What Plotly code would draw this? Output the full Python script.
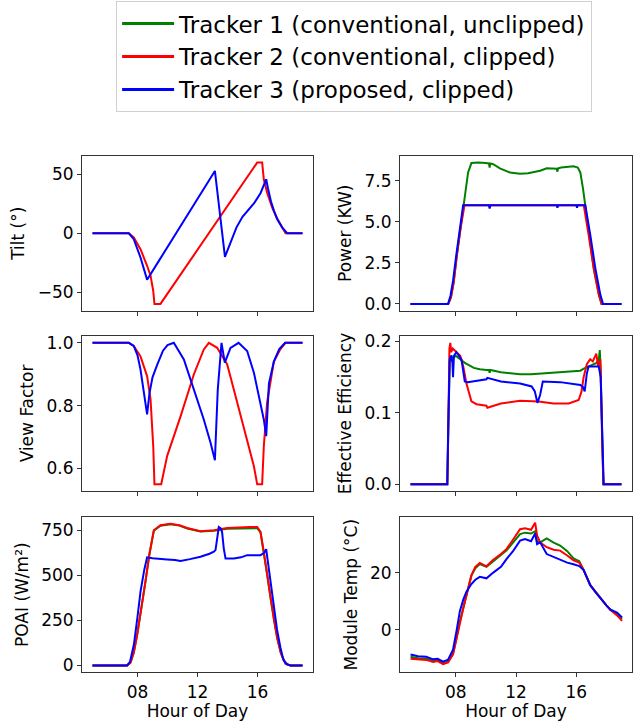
import plotly.graph_objects as go

# ---------------- data ----------------
names = ["Tracker 1 (conventional, unclipped)",
         "Tracker 2 (conventional, clipped)",
         "Tracker 3 (proposed, clipped)"]
colors = ["green", "red", "blue"]

hour_ticks = [8, 12, 16]
hour_labels = ["08", "12", "16"]

# Tilt (deg)
tilt_t_red = [5.0, 7.42, 7.75, 8.2, 8.64, 8.87, 9.05, 9.13, 9.53, 10.5, 11.5, 12.5, 13.5, 14.5, 15.5,
              15.98, 16.31, 16.42, 16.64, 16.98, 17.31, 17.64, 17.87, 19.0]
tilt_red = [0, 0, -3.6, -13.5, -27.6, -36, -49, -60, -60, -42, -23.4, -4.8, 13.8, 32.4, 51,
            60, 60, 45.8, 34.5, 21.8, 12.5, 4.8, 0, 0]
tilt_t_blue = [5.0, 7.42, 7.75, 8.2, 8.53, 8.64, 9.31, 9.98, 10.64, 11.31, 11.98, 12.64, 13.16, 13.83,
               14.2, 14.6, 15.0, 15.4, 15.8, 16.2, 16.58, 16.7, 16.9, 17.1, 17.31, 17.64, 17.98, 19.0]
tilt_blue = [0, 0, -5, -20.6, -34.7, -39.5, -25.8, -12.2, 1.3, 15, 28.6, 42, 52.9, -20,
             -8, 5, 14, 20, 26, 34, 45.8, 38, 27, 19, 12, 5, 0, 0]

# Power (kW)
pow_t_green = [5.0, 7.5, 7.68, 7.86, 8.08, 8.32, 8.58, 8.82, 9.04, 9.5, 10.0, 10.2, 10.25, 10.3, 10.49,
               10.93, 11.6, 12.27, 12.8, 13.16, 13.6, 14.04, 14.5, 14.7, 14.75, 14.8, 15.0, 15.5, 15.82,
               16.1, 16.27, 16.45, 16.6, 16.82, 17.16, 17.5, 17.68, 19.0]
pow_green = [0, 0, 0.4, 1.3, 3.0, 4.6, 6.1, 8.0, 8.57, 8.6, 8.58, 8.55, 8.3, 8.55, 8.5,
             8.25, 8.0, 7.92, 7.95, 8.0, 8.1, 8.25, 8.25, 8.22, 8.05, 8.25, 8.3, 8.37, 8.37,
             8.3, 8.0, 7.0, 6.0, 4.2, 2.15, 0.55, 0, 0]
pow_t_red = [5.0, 7.5, 7.68, 7.86, 8.08, 8.32, 8.58, 16.5, 16.82, 17.16, 17.5, 17.68, 19.0]
pow_red = [0, 0, 0.4, 1.3, 3.0, 4.6, 6.0, 6.0, 4.2, 2.15, 0.55, 0, 0]
pow_t_blue = [5.0, 7.49, 7.65, 7.82, 8.04, 8.27, 8.49, 10.2, 10.25, 10.3, 14.7, 14.75, 14.8,
              16.0, 16.05, 16.1, 16.6, 16.93, 17.27, 17.6, 17.78, 19.0]
pow_blue = [0, 0, 0.5, 1.4, 3.0, 4.6, 6.0, 6.0, 5.8, 6.0, 6.0, 5.85, 6.0,
            6.0, 5.85, 6.0, 6.0, 4.2, 2.15, 0.55, 0, 0]

# View factor
vf_t_red = [5.0, 7.42, 7.75, 8.2, 8.64, 8.87, 9.05, 9.13, 9.58, 9.98, 10.87, 11.76, 12.42, 12.76,
            13.31, 13.98, 14.42, 14.87, 15.31, 15.76, 15.98, 16.31, 16.42, 16.64, 17.09, 17.53, 17.87, 19.0]
vf_red = [1, 1, 0.99, 0.957, 0.894, 0.82, 0.67, 0.55, 0.55, 0.64, 0.766, 0.90, 0.979, 1.0,
          0.984, 0.931, 0.851, 0.766, 0.692, 0.607, 0.55, 0.55, 0.67, 0.81, 0.94, 0.98, 1.0, 1.0]
vf_t_blue = [5.0, 7.42, 7.75, 8.0, 8.2, 8.42, 8.64, 8.8, 9.0, 9.31, 9.7, 10.0, 10.42, 11.09, 11.76,
             12.42, 12.87, 13.16, 13.35, 13.6, 13.82, 14.2, 14.74, 15.31, 15.76, 16.2, 16.42, 16.58,
             16.76, 17.09, 17.45, 17.84, 19.0]
vf_blue = [1, 1, 0.99, 0.96, 0.915, 0.85, 0.772, 0.84, 0.89, 0.93, 0.975, 0.993, 1.0, 0.947, 0.851,
           0.756, 0.682, 0.626, 0.85, 1.0, 0.937, 0.984, 1.0, 0.974, 0.905, 0.81, 0.756, 0.703,
           0.87, 0.94, 0.98, 1.0, 1.0]

# Effective efficiency
eff_t_green = [5.0, 7.44, 7.5, 7.6, 7.7, 7.85, 8.0, 8.27, 8.6, 9.2, 9.6, 10.04, 10.2, 10.25, 10.3,
               11.0, 12.27, 13.0, 14.49, 15.5, 16.27, 16.5, 16.8, 17.1, 17.35, 17.5, 17.56, 17.62,
               17.72, 17.8, 19.0]
eff_green = [0, 0, 0.07, 0.17, 0.18, 0.177, 0.18, 0.175, 0.17, 0.163, 0.161, 0.160, 0.160, 0.156, 0.160,
             0.157, 0.154, 0.154, 0.156, 0.157, 0.159, 0.162, 0.165, 0.168, 0.17, 0.175, 0.188, 0.16,
             0.05, 0, 0]
eff_t_red = [5.0, 7.44, 7.5, 7.58, 7.64, 7.7, 7.8, 8.04, 8.3, 8.5, 8.71, 9.04, 9.38, 10.04, 10.1,
             11.0, 12.27, 13.5, 14.49, 15.5, 16.16, 16.35, 16.49, 16.7, 16.93, 17.1, 17.33, 17.45,
             17.6, 17.72, 17.8, 19.0]
eff_red = [0, 0, 0.067, 0.19, 0.198, 0.185, 0.19, 0.185, 0.18, 0.165, 0.141, 0.116, 0.112, 0.110, 0.107,
           0.113, 0.117, 0.116, 0.113, 0.113, 0.118, 0.13, 0.15, 0.168, 0.175, 0.172, 0.183, 0.165,
           0.175, 0.06, 0, 0]
eff_t_blue = [5.0, 7.44, 7.5, 7.6, 7.7, 7.78, 7.82, 7.88, 8.04, 8.2, 8.38, 8.6, 8.8, 10.04, 10.1,
              11.0, 12.27, 13.04, 13.25, 13.42, 13.6, 13.78, 14.93, 16.27, 16.45, 16.56, 16.7, 16.82,
              17.2, 17.49, 17.62, 17.75, 17.82, 19.0]
eff_blue = [0, 0, 0.08, 0.175, 0.18, 0.17, 0.15, 0.18, 0.185, 0.18, 0.175, 0.144, 0.143, 0.147, 0.149,
            0.144, 0.141, 0.137, 0.13, 0.114, 0.125, 0.144, 0.143, 0.139, 0.136, 0.130, 0.155, 0.165,
            0.165, 0.165, 0.15, 0.05, 0, 0]

# POAI (W/m2)
poai_t_rg = [5.0, 7.31, 7.53, 7.75, 7.98, 8.25, 8.53, 8.8, 9.09, 9.53, 10.2, 10.8, 11.31, 12.2, 13.09,
             13.98, 14.87, 15.5, 15.98, 16.2, 16.42, 16.65, 16.87, 17.1, 17.31, 17.55, 17.76, 18.0,
             18.2, 19.0]
poai_green = [0, 0, 15, 70, 171, 310, 465, 620, 748, 775, 784, 776, 760, 743, 748,
              758, 760, 762, 762, 738, 631, 500, 373, 250, 153, 70, 26, 5, 0, 0]
poai_red = [0, 0, 15, 70, 171, 310, 465, 620, 750, 778, 787, 778, 763, 745, 750,
            763, 768, 768, 768, 741, 631, 500, 373, 250, 153, 70, 26, 5, 0, 0]
poai_t_blue = [5.0, 7.3, 7.5, 7.76, 8.0, 8.2, 8.45, 8.64, 9.0, 9.5, 9.98, 10.5, 10.87, 11.5, 12.2,
               12.8, 13.09, 13.2, 13.3, 13.42, 13.55, 13.64, 13.75, 13.87, 14.42, 14.9, 15.31, 15.8,
               16.2, 16.45, 16.58, 16.7, 16.87, 17.09, 17.3, 17.53, 17.7, 17.87, 18.2, 19.0]
poai_blue = [0, 0, 20, 116, 270, 410, 530, 600, 595, 590, 588, 585, 580, 590, 603,
             620, 631, 640, 700, 768, 760, 740, 650, 593, 593, 600, 612, 610,
             612, 625, 645, 570, 465, 318, 200, 98, 40, 10, 0, 0]

# Module temperature (degC)
temp_t = [5.0, 5.5, 6.04, 6.5, 6.8, 7.16, 7.49, 7.82, 8.05, 8.27, 8.5, 8.71, 9.04, 9.3, 9.6, 10.04,
          10.49, 11.0, 11.38, 11.8, 12.27, 12.6, 13.0, 13.27, 13.4, 13.6, 14.04, 14.5, 14.93, 15.4,
          15.82, 16.2, 16.49, 16.93, 17.3, 17.6, 18.0, 18.27, 18.71, 19.04]
temp_green = [-9.5, -10.0, -10.2, -10.8, -10.5, -11.8, -11.2, -8.5, -3, 2.9, 7.5, 12.1, 19, 21.5, 23, 22,
              24, 26, 27.8, 30.5, 33.5, 34, 33.7, 34.5, 31, 30.6, 32, 30.5, 29.5, 27.5,
              25, 24, 20.9, 15.6, 13, 11, 8.5, 7, 5.5, 3.8]
temp_red = [-10.2, -10.5, -10.6, -11.3, -11.0, -12.1, -11.5, -8.7, -3, 2.9, 7.5, 12.1, 19, 22, 23.4, 22.2,
            24.5, 26.5, 28.3, 31.5, 35.2, 35.5, 35, 37.5, 33, 30.6, 28.9, 28, 27.7, 26,
            24.3, 23.5, 20.9, 15.6, 13, 11, 8.5, 6.9, 5, 3.1]
temp_blue = [-8.7, -9.3, -9.5, -10.4, -10.2, -11.2, -10.5, -7, -0.5, 6.4, 10.5, 13.3, 16, 17.5, 18.5, 18,
             20, 22, 24.8, 27.5, 31.2, 31.8, 31, 33.7, 30, 30.6, 26.5, 25.5, 24.3, 23.5,
             22.9, 22.3, 20.9, 15.6, 13, 11, 8.5, 7, 6, 4.3]

# ---------------- figure ----------------
W, H = 638, 721
FONT = "DejaVu Sans"
fig = go.Figure()


def add(ax, x, y, idx, show=False):
    fig.add_trace(go.Scatter(x=x, y=y, mode="lines", name=names[idx],
                             line=dict(color=colors[idx], width=2),
                             xaxis="x" + ax, yaxis="y" + ax,
                             legendgroup=str(idx), showlegend=show))


# legend entries (order green, red, blue)
for i in range(3):
    fig.add_trace(go.Scatter(x=[None], y=[None], mode="lines", name=names[i],
                             line=dict(color=colors[i], width=3),
                             legendgroup=str(i), showlegend=True))

add("", tilt_t_red, tilt_red, 1)
add("", tilt_t_blue, tilt_blue, 2)
add("2", pow_t_green, pow_green, 0)
add("2", pow_t_red, pow_red, 1)
add("2", pow_t_blue, pow_blue, 2)
add("3", vf_t_red, vf_red, 1)
add("3", vf_t_blue, vf_blue, 2)
add("4", eff_t_green, eff_green, 0)
add("4", eff_t_red, eff_red, 1)
add("4", eff_t_blue, eff_blue, 2)
add("5", poai_t_rg, poai_green, 0)
add("5", poai_t_rg, poai_red, 1)
add("5", poai_t_blue, poai_blue, 2)
add("6", temp_t, temp_green, 0)
add("6", temp_t, temp_red, 1)
add("6", temp_t, temp_blue, 2)

colx = [(82 / W, 313 / W), (400 / W, 632 / W)]
rowy = [(1 - 310 / H, 1 - 153 / H), (1 - 492 / H, 1 - 335 / H), (1 - 675 / H, 1 - 518 / H)]

axis_common = dict(showline=True, mirror=True, linecolor="#333", linewidth=1,
                   ticks="outside", ticklen=4, tickcolor="#333", showgrid=False, zeroline=False,
                   tickfont=dict(family=FONT, size=17, color="black"))

panels = [
    ("", [-66, 66], [-50, 0, 50], ["−50", "0", "50"], "Tilt (°)"),
    ("2", [-0.43, 9.03], [0, 2.5, 5, 7.5], ["0.0", "2.5", "5.0", "7.5"], "Power (KW)"),
    ("3", [0.5275, 1.0225], [0.6, 0.8, 1.0], ["0.6", "0.8", "1.0"], "View Factor"),
    ("4", [-0.0099, 0.208], [0, 0.1, 0.2], ["0.0", "0.1", "0.2"], "Effective Efficiency"),
    ("5", [-39, 824], [0, 250, 500, 750], ["0", "250", "500", "750"], "POAI (W/m²)"),
    ("6", [-15, 39.5], [0, 20], ["0", "20"], "Module Temp (°C)"),
]

layout = {}
for k, (ax, yr, tv, tt, title) in enumerate(panels):
    r, c = divmod(k, 2)
    xname = "xaxis" + ax
    yname = "yaxis" + ax
    xa = dict(axis_common)
    xa.update(domain=list(colx[c]), range=[4.3, 19.7], tickvals=hour_ticks, ticktext=hour_labels,
              anchor="y" + ax, showticklabels=(r == 2))
    if r == 2:
        xa["title"] = dict(text="Hour of Day", font=dict(family=FONT, size=17, color="black"),
                           standoff=0)
    ya = dict(axis_common)
    ya.update(domain=list(rowy[r]), range=yr, tickvals=tv, ticktext=tt, anchor="x" + ax,
              title=dict(text=title, font=dict(family=FONT, size=17, color="black"), standoff=8))
    layout[xname] = xa
    layout[yname] = ya

fig.update_layout(**layout)
fig.update_layout(
    width=W, height=H,
    margin=dict(l=0, r=0, t=0, b=0),
    paper_bgcolor="white", plot_bgcolor="white",
    font=dict(family=FONT, color="black"),
    legend=dict(x=0.555, xanchor="center", y=1.004, yanchor="top",
                font=dict(family=FONT, size=23, color="black"),
                bordercolor="#d0d0d0", borderwidth=1, bgcolor="white",
                tracegroupgap=0, itemwidth=52),
)

fig.write_html("out.html")
